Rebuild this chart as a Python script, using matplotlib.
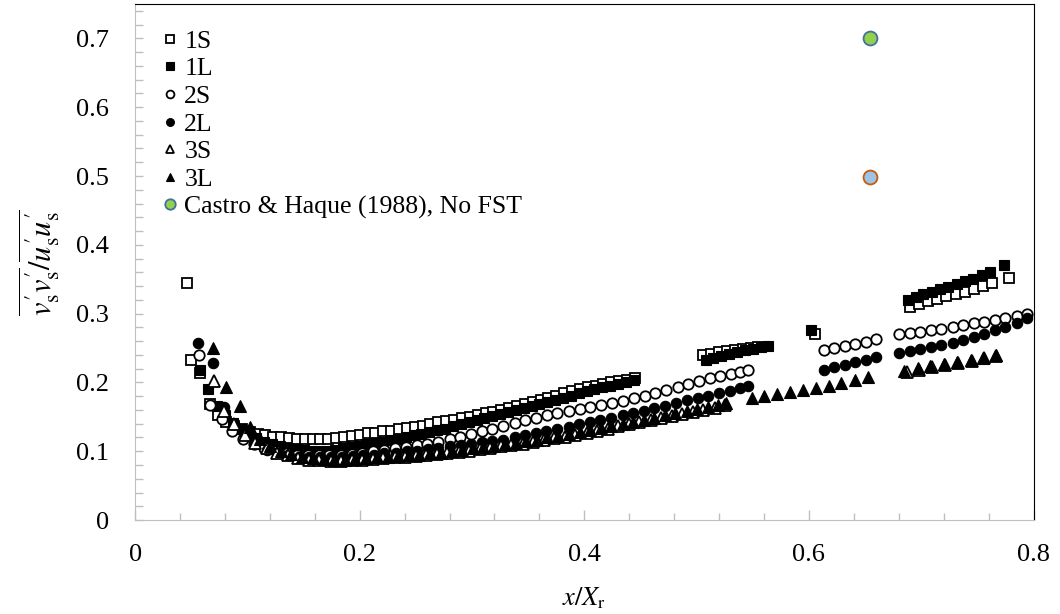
import matplotlib
matplotlib.use('Agg')
import matplotlib.pyplot as plt
from matplotlib.ticker import MultipleLocator

plt.rcParams['font.family'] = ['Liberation Serif', 'DejaVu Serif']
plt.rcParams['mathtext.fontset'] = 'stix'

# Case 1, short (S) and long (L) runs
x_1s = [0.046, 0.050, 0.058, 0.067, 0.074, 0.081, 0.088, 0.095, 0.102, 0.109, 0.116, 0.123,
        0.130, 0.137, 0.144, 0.151, 0.158, 0.165, 0.172, 0.179, 0.186, 0.193, 0.200, 0.207,
        0.214, 0.221, 0.228, 0.235, 0.242, 0.249, 0.256, 0.263, 0.270, 0.277, 0.284, 0.291,
        0.298, 0.305, 0.312, 0.319, 0.326, 0.333, 0.340, 0.347, 0.354, 0.361, 0.368, 0.375,
        0.382, 0.389, 0.396, 0.403, 0.410, 0.417, 0.424, 0.431, 0.438, 0.445,
        0.506, 0.513, 0.520, 0.527, 0.534, 0.541, 0.548, 0.555,
        0.605,
        0.690, 0.698, 0.706, 0.714, 0.722, 0.731, 0.739, 0.747, 0.755, 0.763,
        0.778]
y_1s = [0.345, 0.232, 0.214, 0.168, 0.152, 0.142, 0.137, 0.133, 0.128, 0.125, 0.123, 0.121,
        0.120, 0.119, 0.118, 0.118, 0.118, 0.118, 0.118, 0.119, 0.120, 0.122, 0.124, 0.126,
        0.127, 0.129, 0.130, 0.132, 0.134, 0.135, 0.137, 0.139, 0.142, 0.144, 0.146, 0.148,
        0.150, 0.152, 0.155, 0.157, 0.160, 0.163, 0.166, 0.169, 0.172, 0.175, 0.178, 0.181,
        0.184, 0.187, 0.190, 0.193, 0.195, 0.198, 0.200, 0.202, 0.204, 0.207,
        0.240, 0.242, 0.244, 0.245, 0.247, 0.249, 0.250, 0.252,
        0.270,
        0.310, 0.314, 0.318, 0.321, 0.325, 0.328, 0.332, 0.336, 0.340, 0.345,
        0.352]

x_1l = [0.058, 0.065, 0.073, 0.080, 0.087, 0.094, 0.101, 0.108, 0.115, 0.122, 0.129, 0.136,
        0.143, 0.150, 0.157, 0.164, 0.171, 0.178, 0.185, 0.192, 0.199, 0.206, 0.213, 0.220,
        0.227, 0.234, 0.241, 0.248, 0.255, 0.262, 0.269, 0.276, 0.283, 0.290, 0.297, 0.304,
        0.311, 0.318, 0.325, 0.332, 0.339, 0.346, 0.353, 0.360, 0.367, 0.374, 0.381, 0.388,
        0.395, 0.402, 0.409, 0.416, 0.423, 0.430, 0.437, 0.444,
        0.508, 0.515, 0.522, 0.529, 0.536, 0.543, 0.550, 0.557, 0.564,
        0.602,
        0.688, 0.695, 0.702, 0.710, 0.717, 0.724, 0.732, 0.739, 0.746, 0.754, 0.761,
        0.774]
y_1l = [0.218, 0.190, 0.166, 0.152, 0.141, 0.132, 0.125, 0.119, 0.114, 0.110, 0.107, 0.105,
        0.103, 0.102, 0.101, 0.101, 0.101, 0.102, 0.104, 0.106, 0.108, 0.110, 0.112, 0.114,
        0.116, 0.118, 0.120, 0.123, 0.125, 0.128, 0.131, 0.133, 0.136, 0.139, 0.142, 0.145,
        0.148, 0.151, 0.154, 0.157, 0.160, 0.163, 0.166, 0.169, 0.172, 0.175, 0.178, 0.181,
        0.184, 0.187, 0.190, 0.193, 0.195, 0.198, 0.200, 0.203,
        0.233, 0.236, 0.239, 0.242, 0.244, 0.247, 0.249, 0.251, 0.253,
        0.276,
        0.320, 0.324, 0.328, 0.332, 0.336, 0.339, 0.343, 0.347, 0.351, 0.356, 0.361,
        0.371]

# Case 2
x_2s = [0.057, 0.067, 0.077, 0.086, 0.096, 0.106, 0.115, 0.125, 0.135, 0.144, 0.154, 0.164,
        0.173, 0.183, 0.193, 0.202, 0.212, 0.222, 0.231, 0.241, 0.251, 0.260, 0.270, 0.280,
        0.289, 0.299, 0.309, 0.318, 0.328, 0.338, 0.347, 0.357, 0.367, 0.376, 0.386, 0.396,
        0.405, 0.415, 0.425, 0.434, 0.444, 0.454, 0.463, 0.473, 0.483, 0.492, 0.502, 0.512,
        0.521, 0.531, 0.539, 0.546,
        0.613, 0.622, 0.632, 0.641, 0.651, 0.660,
        0.680, 0.690, 0.699, 0.709, 0.718, 0.728, 0.737, 0.747, 0.756, 0.766, 0.775, 0.785, 0.794]
y_2s = [0.240, 0.167, 0.147, 0.130, 0.118, 0.110, 0.104, 0.100, 0.097, 0.095, 0.094, 0.094,
        0.094, 0.095, 0.096, 0.098, 0.100, 0.102, 0.104, 0.106, 0.109, 0.111, 0.114, 0.118,
        0.121, 0.125, 0.129, 0.133, 0.137, 0.141, 0.145, 0.149, 0.152, 0.156, 0.159, 0.162,
        0.165, 0.167, 0.170, 0.173, 0.177, 0.181, 0.185, 0.189, 0.194, 0.198, 0.202, 0.206,
        0.209, 0.212, 0.215, 0.218,
        0.247, 0.250, 0.253, 0.256, 0.259, 0.263,
        0.270, 0.272, 0.274, 0.276, 0.278, 0.281, 0.283, 0.286, 0.288, 0.291, 0.294, 0.297, 0.299]

x_2l = [0.056, 0.069, 0.079, 0.088, 0.098, 0.107, 0.117, 0.126, 0.136, 0.146, 0.155, 0.165,
        0.174, 0.184, 0.194, 0.203, 0.213, 0.222, 0.232, 0.242, 0.251, 0.261, 0.270, 0.280,
        0.290, 0.299, 0.309, 0.318, 0.328, 0.338, 0.347, 0.357, 0.366, 0.376, 0.386, 0.395,
        0.405, 0.414, 0.424, 0.434, 0.443, 0.453, 0.462, 0.472, 0.482, 0.491, 0.501, 0.510,
        0.520, 0.530, 0.539, 0.546,
        0.613, 0.622, 0.632, 0.641, 0.651, 0.660,
        0.680, 0.690, 0.699, 0.709, 0.718, 0.728, 0.737, 0.747, 0.756, 0.766, 0.775, 0.785, 0.794]
y_2l = [0.257, 0.228, 0.165, 0.140, 0.123, 0.110, 0.102, 0.097, 0.094, 0.092, 0.091, 0.091,
        0.091, 0.092, 0.093, 0.094, 0.095, 0.097, 0.098, 0.100, 0.101, 0.103, 0.105, 0.107,
        0.109, 0.111, 0.113, 0.115, 0.117, 0.120, 0.123, 0.126, 0.129, 0.132, 0.135, 0.139,
        0.143, 0.146, 0.149, 0.152, 0.156, 0.159, 0.163, 0.166, 0.170, 0.174, 0.177, 0.181,
        0.185, 0.188, 0.192, 0.195,
        0.218, 0.222, 0.226, 0.230, 0.233, 0.237,
        0.243, 0.245, 0.248, 0.251, 0.254, 0.258, 0.262, 0.266, 0.271, 0.276, 0.281, 0.287, 0.294]

# Case 3
x_3s = [0.070, 0.079, 0.088, 0.098, 0.107, 0.117, 0.126, 0.136, 0.145, 0.155, 0.164, 0.174,
        0.183, 0.193, 0.202, 0.212, 0.221, 0.231, 0.240, 0.250, 0.259, 0.269, 0.278, 0.288,
        0.297, 0.307, 0.316, 0.326, 0.335, 0.345, 0.354, 0.364, 0.373, 0.383, 0.392, 0.402,
        0.411, 0.421, 0.430, 0.440, 0.449, 0.459, 0.468, 0.478, 0.487, 0.497, 0.506, 0.516, 0.525,
        0.687, 0.698, 0.710, 0.721, 0.733, 0.745, 0.756, 0.767]
y_3s = [0.202, 0.158, 0.140, 0.124, 0.112, 0.104, 0.098, 0.094, 0.090, 0.088, 0.087, 0.086,
        0.086, 0.087, 0.088, 0.089, 0.090, 0.091, 0.092, 0.093, 0.094, 0.096, 0.097, 0.099,
        0.101, 0.103, 0.105, 0.107, 0.109, 0.111, 0.114, 0.116, 0.119, 0.121, 0.124, 0.127,
        0.130, 0.133, 0.136, 0.139, 0.142, 0.145, 0.148, 0.151, 0.154, 0.157, 0.160, 0.163, 0.167,
        0.215, 0.218, 0.222, 0.225, 0.228, 0.231, 0.235, 0.239]

x_3l = [0.069, 0.081, 0.093, 0.102, 0.111, 0.120, 0.130, 0.139, 0.149, 0.158, 0.168, 0.177,
        0.187, 0.196, 0.206, 0.215, 0.225, 0.234, 0.244, 0.253, 0.263, 0.272, 0.282, 0.291,
        0.301, 0.310, 0.320, 0.329, 0.339, 0.348, 0.358, 0.367, 0.377, 0.386, 0.396, 0.405,
        0.415, 0.424, 0.434, 0.443, 0.453, 0.462, 0.472, 0.481, 0.491, 0.500, 0.510, 0.519, 0.526,
        0.549, 0.560, 0.572, 0.583, 0.595, 0.606, 0.618, 0.629, 0.641, 0.653,
        0.685, 0.697, 0.708, 0.720, 0.732, 0.744, 0.755, 0.767]
y_3l = [0.250, 0.193, 0.166, 0.135, 0.118, 0.108, 0.101, 0.096, 0.092, 0.090, 0.089, 0.088,
        0.088, 0.089, 0.090, 0.091, 0.092, 0.093, 0.094, 0.095, 0.097, 0.098, 0.100, 0.102,
        0.104, 0.106, 0.108, 0.110, 0.112, 0.115, 0.117, 0.120, 0.122, 0.125, 0.128, 0.131,
        0.134, 0.137, 0.140, 0.143, 0.146, 0.149, 0.152, 0.155, 0.158, 0.161, 0.164, 0.167, 0.170,
        0.177, 0.180, 0.183, 0.186, 0.189, 0.192, 0.195, 0.199, 0.203, 0.208,
        0.217, 0.221, 0.224, 0.227, 0.230, 0.233, 0.236, 0.240]

# Castro & Haque (1988) reference values
x_castro = [0.654]
y_castro = [0.700]
x_castro2 = [0.654]
y_castro2 = [0.499]

x_ticks = [0, 0.2, 0.4, 0.6, 0.8]
x_tick_labels = ['0', '0.2', '0.4', '0.6', '0.8']
y_ticks = [0, 0.1, 0.2, 0.3, 0.4, 0.5, 0.6, 0.7]
y_tick_labels = ['0', '0.1', '0.2', '0.3', '0.4', '0.5', '0.6', '0.7']

fig = plt.figure(figsize=(10.6, 6.14), dpi=100)
ax = fig.add_axes([0.1275, 0.153, 0.8475, 0.8405])

open_kw = dict(linestyle='none', markerfacecolor='white', markeredgecolor='black',
               markeredgewidth=1.3)
fill_kw = dict(linestyle='none', color='black', markeredgewidth=0.8)

ax.plot(x_1s, y_1s, marker='s', markersize=7.5, label='1S', **open_kw)
ax.plot(x_1l, y_1l, marker='s', markersize=7.5, label='1L', **fill_kw)
ax.plot(x_2s, y_2s, marker='o', markersize=7.5, label='2S', **open_kw)
ax.plot(x_2l, y_2l, marker='o', markersize=7.5, label='2L', **fill_kw)
ax.plot(x_3s, y_3s, marker='^', markersize=8, label='3S', **open_kw)
ax.plot(x_3l, y_3l, marker='^', markersize=8, label='3L', **fill_kw)
ax.plot(x_castro, y_castro, marker='o', markersize=10, linestyle='none',
        markerfacecolor='#92d050', markeredgecolor='#41719c', markeredgewidth=1.3,
        label='Castro & Haque (1988), No FST')
ax.plot(x_castro2, y_castro2, marker='o', markersize=10, linestyle='none',
        markerfacecolor='#9dc3e6', markeredgecolor='#c55a11', markeredgewidth=1.3)

ax.set_xlim(0, 0.8)
ax.set_ylim(0, 0.75)
ax.set_xticks(x_ticks, x_tick_labels)
ax.set_yticks(y_ticks, y_tick_labels)
ax.xaxis.set_minor_locator(MultipleLocator(0.04))
ax.yaxis.set_minor_locator(MultipleLocator(0.02))

ax.tick_params(which='both', direction='in', color='#bfbfbf', width=1,
               top=False, right=False, labelsize=19)
ax.tick_params(axis='x', which='major', length=7, pad=17)
ax.tick_params(axis='x', which='minor', length=5)
ax.tick_params(axis='y', which='both', length=6, pad=19)

for side in ['left', 'bottom']:
    ax.spines[side].set_color('#bfbfbf')
for side in ['top', 'right']:
    ax.spines[side].set_color('black')

ax.set_xlabel(r'$x/X_{\mathrm{r}}$', fontsize=19, labelpad=14)
ax.set_ylabel(r"$\overline{v^{\prime}_{\mathrm{s}}v^{\prime}_{\mathrm{s}}}"
              r"/\overline{u^{\prime}_{\mathrm{s}}u^{\prime}_{\mathrm{s}}}$",
              fontsize=22, labelpad=10)

ax.legend(loc='upper left', bbox_to_anchor=(-0.001, 1.0), frameon=False, fontsize=18.5,
          markerscale=0.75, handlelength=0.8, handletextpad=0.15, labelspacing=0.18,
          borderaxespad=0.6)

fig.savefig('out.png', dpi=100)
